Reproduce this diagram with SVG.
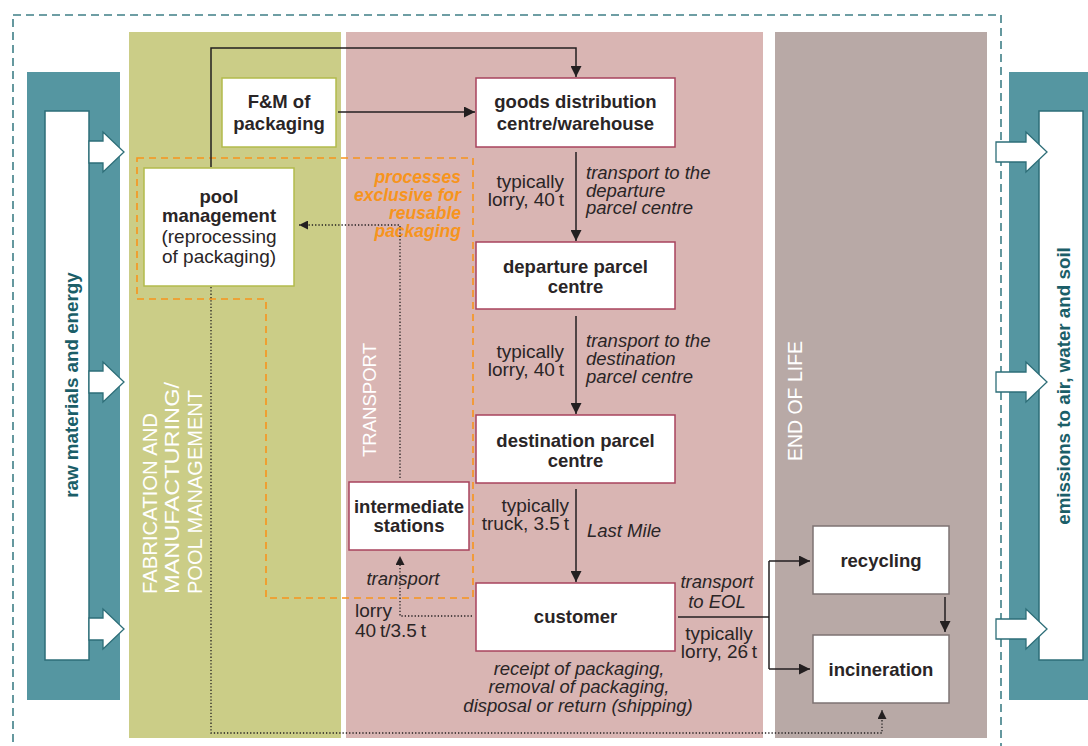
<svg xmlns="http://www.w3.org/2000/svg" width="1088" height="746" viewBox="0 0 1088 746">
<style>
text{font-family:"Liberation Sans",Arial,sans-serif;fill:#2a2526}
.b{font-weight:bold;font-size:18.5px;text-anchor:middle}
.r{font-size:19px}
.i{font-style:italic;font-size:18.5px}
.o{font-style:italic;font-weight:bold;font-size:17.5px;fill:#f7941d;text-anchor:end}
.v{fill:#ffffff;font-size:20px}
.t{fill:#1b5e68;font-weight:bold;font-size:18.8px;text-anchor:middle}
.ng{fill:#ffffff;stroke:#b3bb4c;stroke-width:1.5}
.np{fill:#ffffff;stroke:#a8435d;stroke-width:1.5}
.ne{fill:#ffffff;stroke:#7d7373;stroke-width:1.5}
.ln{fill:none;stroke:#231f20;stroke-width:1.5}
.dt{fill:none;stroke:#231f20;stroke-width:1.3;stroke-dasharray:1.3 2}
.arr{fill:#ffffff;stroke:#2d6e78;stroke-width:1.3}
</style>
<defs>
<marker id="ah" markerUnits="userSpaceOnUse" markerWidth="11" markerHeight="11" refX="11" refY="5.5" orient="auto">
<path d="M0,0 L11,5.5 L0,11 z" fill="#231f20"/>
</marker>
<marker id="ahs" markerUnits="userSpaceOnUse" markerWidth="9" markerHeight="9" refX="9" refY="4.5" orient="auto">
<path d="M0,0 L9,4.5 L0,9 z" fill="#231f20"/>
</marker>
</defs>
<rect width="1088" height="746" fill="#ffffff"/>
<rect x="13" y="15" width="988" height="760" fill="none" stroke="#3f7f87" stroke-width="1.6" stroke-dasharray="8 5"/>

<g id="panels">
<rect x="27" y="72" width="93" height="628" fill="#5596a1"/>
<rect x="45" y="111" width="44" height="549" fill="#ffffff" stroke="#2d6e78" stroke-width="1.5"/>
<rect x="129" y="32" width="212" height="706" fill="#cbcd87"/>
<rect x="346" y="32" width="417" height="706" fill="#d9b5b3"/>
<rect x="775" y="32" width="212" height="706" fill="#b8a9a6"/>
<rect x="1009" y="72" width="79" height="628" fill="#5596a1"/>
<rect x="1039" y="111" width="44" height="549" fill="#ffffff" stroke="#2d6e78" stroke-width="1.5"/>
</g>

<g id="input-arrows">
<polygon class="arr" points="89,141 103,141 103,132 124,152 103,172 103,163 89,163"/>
<polygon class="arr" points="89,371 103,371 103,362 124,382 103,402 103,393 89,393"/>
<polygon class="arr" points="89,618 103,618 103,609 124,629 103,649 103,640 89,640"/>
</g>
<g id="output-arrows">
<polygon class="arr" points="996,142 1026,142 1026,132 1047,152 1026,172 1026,162 996,162"/>
<polygon class="arr" points="996,372 1026,372 1026,362 1047,382 1026,402 1026,392 996,392"/>
<polygon class="arr" points="996,619 1026,619 1026,609 1047,629 1026,649 1026,639 996,639"/>
</g>

<g id="panel-labels">
<text class="t" transform="translate(78,385) rotate(-90)">raw materials and energy</text>
<text class="t" transform="translate(1070,386) rotate(-90)">emissions to air, water and soil</text>
<text class="v" transform="translate(157,594) rotate(-90)" textLength="181" lengthAdjust="spacingAndGlyphs">FABRICATION AND</text>
<text class="v" transform="translate(179,594) rotate(-90)" textLength="212" lengthAdjust="spacingAndGlyphs">MANUFACTURING/</text>
<text class="v" transform="translate(202,594) rotate(-90)" textLength="204" lengthAdjust="spacingAndGlyphs">POOL MANAGEMENT</text>
<text class="v" transform="translate(376,457) rotate(-90)" textLength="114" lengthAdjust="spacingAndGlyphs" style="font-size:18.5px">TRANSPORT</text>
<text class="v" transform="translate(802,461) rotate(-90)" textLength="120" lengthAdjust="spacingAndGlyphs" style="font-size:19.5px">END OF LIFE</text>
</g>

<g id="reusable-zone">
<polygon points="137,158 473,158 473,598 266,598 266,299 137,299" fill="none" stroke="#f7941d" stroke-width="1.6" stroke-dasharray="7 5"/>
<text class="o" x="461" y="183">processes</text>
<text class="o" x="461" y="201">exclusive for</text>
<text class="o" x="461" y="219">reusable</text>
<text class="o" x="461" y="237">packaging</text>
</g>

<g id="connectors">
<path class="ln" d="M211,167 V48 H576 V77" marker-end="url(#ah)"/>
<path class="ln" d="M338,112 H475" marker-end="url(#ah)"/>
<path class="ln" d="M576,152 V241" marker-end="url(#ah)"/>
<path class="ln" d="M576,316 V414" marker-end="url(#ah)"/>
<path class="ln" d="M576,489 V582" marker-end="url(#ah)"/>
<path class="ln" d="M678,617 H769"/>
<path class="ln" d="M769,561 V669"/>
<path class="ln" d="M769,561 H810" marker-end="url(#ah)"/>
<path class="ln" d="M769,669 H810" marker-end="url(#ah)"/>
<path class="ln" d="M945,597 V632" marker-end="url(#ah)"/>
<path class="dt" d="M211,287 V733 H882 V710" marker-end="url(#ahs)"/>
<path class="dt" d="M472,616 H400 V556" marker-end="url(#ahs)"/>
<path class="dt" d="M400,478 V225 H299" marker-end="url(#ahs)"/>
</g>

<g id="edge-labels">
<text class="r" x="564" y="188" text-anchor="end">typically</text>
<text class="r" x="564" y="206" text-anchor="end">lorry, 40&#8201;t</text>
<text class="i" x="586" y="179">transport to the</text>
<text class="i" x="586" y="197">departure</text>
<text class="i" x="586" y="214">parcel centre</text>
<text class="r" x="564" y="358" text-anchor="end">typically</text>
<text class="r" x="564" y="376" text-anchor="end">lorry, 40&#8201;t</text>
<text class="i" x="586" y="347">transport to the</text>
<text class="i" x="586" y="365">destination</text>
<text class="i" x="586" y="383">parcel centre</text>
<text class="r" x="569" y="512" text-anchor="end">typically</text>
<text class="r" x="569" y="530" text-anchor="end">truck, 3.5&#8201;t</text>
<text class="i" x="587" y="537">Last Mile</text>
<text class="i" x="403" y="585" text-anchor="middle">transport</text>
<text class="r" x="355" y="617">lorry</text>
<text class="r" x="355" y="637">40&#8201;t/3.5&#8201;t</text>
<text class="i" x="717" y="588" text-anchor="middle">transport</text>
<text class="i" x="717" y="608" text-anchor="middle">to EOL</text>
<text class="r" x="719" y="640" text-anchor="middle">typically</text>
<text class="r" x="719" y="658" text-anchor="middle">lorry, 26&#8201;t</text>
<text class="i" x="579" y="675" text-anchor="middle">receipt of packaging,</text>
<text class="i" x="579" y="693" text-anchor="middle">removal of packaging,</text>
<text class="i" x="578" y="712" text-anchor="middle">disposal or return (shipping)</text>
</g>

<g id="fm-packaging">
<rect class="ng" x="222" y="78" width="114" height="69"/>
<text class="b" x="279" y="108">F&amp;M of</text>
<text class="b" x="279" y="130">packaging</text>
</g>
<g id="pool-management">
<rect class="ng" x="144" y="168" width="150" height="118"/>
<text class="b" x="219" y="203">pool</text>
<text class="b" x="219" y="222">management</text>
<text class="r" x="219" y="243" text-anchor="middle">(reprocessing</text>
<text class="r" x="219" y="263" text-anchor="middle">of packaging)</text>
</g>
<g id="goods-distribution">
<rect class="np" x="476" y="78" width="199" height="69"/>
<text class="b" x="575.5" y="108">goods distribution</text>
<text class="b" x="575.5" y="130">centre/warehouse</text>
</g>
<g id="departure-parcel-centre">
<rect class="np" x="476" y="242" width="199" height="67"/>
<text class="b" x="575.5" y="273">departure parcel</text>
<text class="b" x="575.5" y="293">centre</text>
</g>
<g id="destination-parcel-centre">
<rect class="np" x="476" y="415" width="199" height="68"/>
<text class="b" x="575.5" y="447">destination parcel</text>
<text class="b" x="575.5" y="467">centre</text>
</g>
<g id="intermediate-stations">
<rect class="np" x="349" y="482" width="120" height="68"/>
<text class="b" x="409" y="513">intermediate</text>
<text class="b" x="409" y="532">stations</text>
</g>
<g id="customer">
<rect class="np" x="476" y="583" width="199" height="68"/>
<text class="b" x="575.5" y="623">customer</text>
</g>
<g id="recycling">
<rect class="ne" x="813" y="526" width="136" height="68"/>
<text class="b" x="881" y="567">recycling</text>
</g>
<g id="incineration">
<rect class="ne" x="813" y="635" width="136" height="68"/>
<text class="b" x="881" y="676">incineration</text>
</g>
</svg>
